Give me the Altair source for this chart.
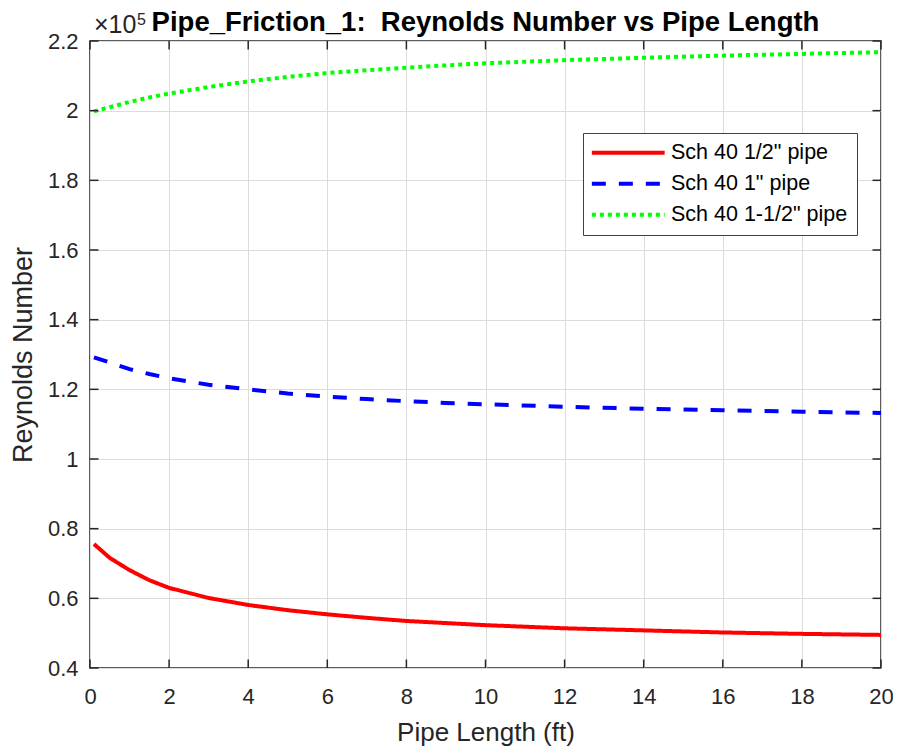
import altair as alt
import pandas as pd

# ---- data ----
length_ft = [0.1, 0.5, 1, 1.5, 2, 3, 4, 5, 6, 7, 8, 9, 10, 12, 14, 16, 18, 20]
re_half = [75600, 71600, 68100, 65200, 63000, 60100, 58100, 56600, 55400,
           54400, 53500, 52900, 52300, 51400, 50800, 50200, 49800, 49500]
re_one = [129200, 127700, 125800, 124400, 123200, 121300, 120000, 118800, 117900,
          117200, 116600, 116100, 115700, 115000, 114400, 114000, 113600, 113200]
re_onehalf = [199800, 201000, 202500, 203800, 204900, 206800, 208400, 209700, 210800,
              211600, 212300, 213000, 213600, 214500, 215200, 215800, 216300, 216800]

series_names = ['Sch 40 1/2" pipe', 'Sch 40 1" pipe', 'Sch 40 1-1/2" pipe']
series_colors = ["#ff0000", "#0000ff", "#00ff00"]
series_dash = [[1, 0], [14, 13], [4, 4]]

x_ticks = [0, 2, 4, 6, 8, 10, 12, 14, 16, 18, 20]
y_ticks = [40000, 60000, 80000, 100000, 120000, 140000, 160000, 180000, 200000, 220000]

rows = []
for name, vals in zip(series_names, [re_half, re_one, re_onehalf]):
    for x, v in zip(length_ft, vals):
        rows.append({"series": name, "length": x, "Re": v})
df = pd.DataFrame(rows)

W, H = 791, 627
FONT = "Liberation Sans"
TXT = "#262626"

xscale = alt.Scale(domain=[0, 20], nice=False, zero=False)
yscale = alt.Scale(domain=[40000, 220000], nice=False, zero=False)

common_axis = dict(grid=True, ticks=False, domain=False, labelFlush=False,
                   labelFont=FONT, labelFontSize=22, labelColor=TXT,
                   titleFont=FONT, titleColor=TXT, titleFontWeight="normal",
                   gridColor="#dcdcdc", gridWidth=1)
xaxis = alt.Axis(values=x_ticks, title="Pipe Length (ft)", labelPadding=18,
                 titlePadding=12, titleFontSize=26, **common_axis)
yaxis = alt.Axis(values=y_ticks, title="Reynolds Number", labelPadding=12,
                 titlePadding=10, titleFontSize=27,
                 labelExpr="format(datum.value/100000, '.2~g')", **common_axis)

legend = alt.Legend(
    orient="none", legendX=493, legendY=92, title=None,
    symbolType="M-5.2,0H5.2", symbolSize=196, symbolStrokeWidth=4,
    symbolFillColor="transparent",
    labelFontSize=21.5, labelFont=FONT, labelColor="#000000", labelLimit=400,
    padding=9, fillColor="white", strokeColor="#404040",
    rowPadding=8, labelOffset=32, symbolOffset=25.5,
)

lines = alt.Chart(df).mark_line(strokeWidth=4, clip=True).encode(
    x=alt.X("length:Q", scale=xscale, axis=xaxis),
    y=alt.Y("Re:Q", scale=yscale, axis=yaxis),
    color=alt.Color("series:N", scale=alt.Scale(domain=series_names, range=series_colors),
                    legend=legend),
    strokeDash=alt.StrokeDash("series:N", scale=alt.Scale(domain=series_names, range=series_dash),
                              legend=legend),
    order=alt.Order("length:Q"),
)

xt = pd.DataFrame({"length": x_ticks})
yt = pd.DataFrame({"Re": y_ticks})
TL = 8.5
tick_style = dict(color=TXT, strokeWidth=1.5)
bx = alt.Chart(xt).mark_rule(**tick_style).encode(
    x=alt.X("length:Q", scale=xscale, axis=xaxis), y=alt.value(H), y2=alt.value(H - TL))
tx = alt.Chart(xt).mark_rule(**tick_style).encode(
    x=alt.X("length:Q", scale=xscale, axis=xaxis), y=alt.value(0), y2=alt.value(TL))
ly = alt.Chart(yt).mark_rule(**tick_style).encode(
    y=alt.Y("Re:Q", scale=yscale, axis=yaxis), x=alt.value(0), x2=alt.value(TL))
ry = alt.Chart(yt).mark_rule(**tick_style).encode(
    y=alt.Y("Re:Q", scale=yscale, axis=yaxis), x=alt.value(W), x2=alt.value(W - TL))

exp_base = alt.Chart(pd.DataFrame({"t": ["×10"]})).mark_text(
    align="left", baseline="alphabetic", fontSize=25, font=FONT, color=TXT
).encode(text="t:N", x=alt.value(4), y=alt.value(-8))
exp_pow = alt.Chart(pd.DataFrame({"t": ["5"]})).mark_text(
    align="left", baseline="alphabetic", fontSize=16, font=FONT, color=TXT
).encode(text="t:N", x=alt.value(47), y=alt.value(-16))

chart = alt.layer(lines, bx, tx, ly, ry, exp_base, exp_pow).properties(
    width=W, height=H,
    title=alt.Title("Pipe_Friction_1: \u00a0Reynolds Number vs Pipe Length",
                    fontSize=27.5, font=FONT, fontWeight="bold", color="#000000",
                    anchor="middle", offset=-46, frame="group", baseline="alphabetic"),
    autosize=alt.AutoSizeParams(type="none"),
    padding={"left": 82, "top": 33, "right": 12, "bottom": 80},
).configure_view(
    stroke=TXT, strokeWidth=1.5
)

chart.save("out.html", embed_options={"renderer": "svg", "actions": False})
